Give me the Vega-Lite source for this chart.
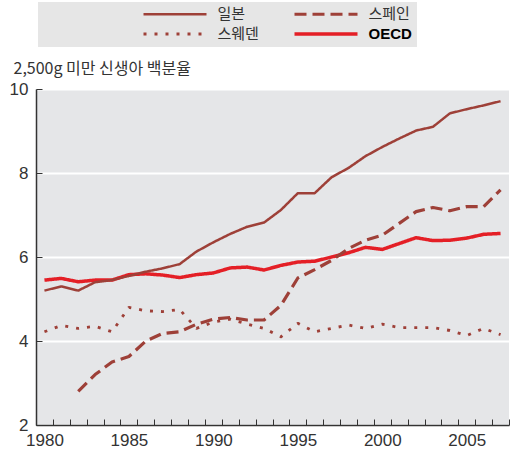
{
  "$schema": "https://vega.github.io/schema/vega-lite/v6.json",
  "width": 473,
  "height": 336,
  "autosize": {"type": "none"},
  "padding": {"left": 36, "top": 89, "right": 7, "bottom": 30},
  "background": "white",
  "config": {
    "view": {"fill": "#e5e6e8", "stroke": null},
    "font": "Liberation Sans, Noto Sans CJK KR"
  },
  "data": {
    "values": [
      {"country": "OECD", "year": 1980, "value": 5.45},
      {"country": "OECD", "year": 1981, "value": 5.49},
      {"country": "OECD", "year": 1982, "value": 5.41},
      {"country": "OECD", "year": 1983, "value": 5.45},
      {"country": "OECD", "year": 1984, "value": 5.45},
      {"country": "OECD", "year": 1985, "value": 5.58},
      {"country": "OECD", "year": 1986, "value": 5.6},
      {"country": "OECD", "year": 1987, "value": 5.57},
      {"country": "OECD", "year": 1988, "value": 5.51},
      {"country": "OECD", "year": 1989, "value": 5.58},
      {"country": "OECD", "year": 1990, "value": 5.62},
      {"country": "OECD", "year": 1991, "value": 5.74},
      {"country": "OECD", "year": 1992, "value": 5.76},
      {"country": "OECD", "year": 1993, "value": 5.69},
      {"country": "OECD", "year": 1994, "value": 5.8},
      {"country": "OECD", "year": 1995, "value": 5.88},
      {"country": "OECD", "year": 1996, "value": 5.9},
      {"country": "OECD", "year": 1997, "value": 6.0},
      {"country": "OECD", "year": 1998, "value": 6.1},
      {"country": "OECD", "year": 1999, "value": 6.23},
      {"country": "OECD", "year": 2000, "value": 6.18},
      {"country": "OECD", "year": 2001, "value": 6.32},
      {"country": "OECD", "year": 2002, "value": 6.46},
      {"country": "OECD", "year": 2003, "value": 6.39},
      {"country": "OECD", "year": 2004, "value": 6.4},
      {"country": "OECD", "year": 2005, "value": 6.45},
      {"country": "OECD", "year": 2006, "value": 6.54},
      {"country": "OECD", "year": 2007, "value": 6.56},
      {"country": "스웨덴", "year": 1980, "value": 4.22},
      {"country": "스웨덴", "year": 1981, "value": 4.37},
      {"country": "스웨덴", "year": 1982, "value": 4.3},
      {"country": "스웨덴", "year": 1983, "value": 4.35},
      {"country": "스웨덴", "year": 1984, "value": 4.22},
      {"country": "스웨덴", "year": 1985, "value": 4.8},
      {"country": "스웨덴", "year": 1986, "value": 4.72},
      {"country": "스웨덴", "year": 1987, "value": 4.7},
      {"country": "스웨덴", "year": 1988, "value": 4.75},
      {"country": "스웨덴", "year": 1989, "value": 4.3},
      {"country": "스웨덴", "year": 1990, "value": 4.45},
      {"country": "스웨덴", "year": 1991, "value": 4.52},
      {"country": "스웨덴", "year": 1992, "value": 4.4},
      {"country": "스웨덴", "year": 1993, "value": 4.3},
      {"country": "스웨덴", "year": 1994, "value": 4.1},
      {"country": "스웨덴", "year": 1995, "value": 4.42},
      {"country": "스웨덴", "year": 1996, "value": 4.22},
      {"country": "스웨덴", "year": 1997, "value": 4.3},
      {"country": "스웨덴", "year": 1998, "value": 4.38},
      {"country": "스웨덴", "year": 1999, "value": 4.3},
      {"country": "스웨덴", "year": 2000, "value": 4.4},
      {"country": "스웨덴", "year": 2001, "value": 4.32},
      {"country": "스웨덴", "year": 2002, "value": 4.32},
      {"country": "스웨덴", "year": 2003, "value": 4.32},
      {"country": "스웨덴", "year": 2004, "value": 4.25},
      {"country": "스웨덴", "year": 2005, "value": 4.13},
      {"country": "스웨덴", "year": 2006, "value": 4.3},
      {"country": "스웨덴", "year": 2007, "value": 4.15},
      {"country": "스페인", "year": 1982, "value": 2.8},
      {"country": "스페인", "year": 1983, "value": 3.2},
      {"country": "스페인", "year": 1984, "value": 3.5},
      {"country": "스페인", "year": 1985, "value": 3.63},
      {"country": "스페인", "year": 1986, "value": 4.0},
      {"country": "스페인", "year": 1987, "value": 4.18},
      {"country": "스페인", "year": 1988, "value": 4.22},
      {"country": "스페인", "year": 1989, "value": 4.4},
      {"country": "스페인", "year": 1990, "value": 4.52},
      {"country": "스페인", "year": 1991, "value": 4.56},
      {"country": "스페인", "year": 1992, "value": 4.5},
      {"country": "스페인", "year": 1993, "value": 4.5},
      {"country": "스페인", "year": 1994, "value": 4.85},
      {"country": "스페인", "year": 1995, "value": 5.5},
      {"country": "스페인", "year": 1996, "value": 5.7},
      {"country": "스페인", "year": 1997, "value": 5.92},
      {"country": "스페인", "year": 1998, "value": 6.2},
      {"country": "스페인", "year": 1999, "value": 6.4},
      {"country": "스페인", "year": 2000, "value": 6.52},
      {"country": "스페인", "year": 2001, "value": 6.8},
      {"country": "스페인", "year": 2002, "value": 7.08},
      {"country": "스페인", "year": 2003, "value": 7.18},
      {"country": "스페인", "year": 2004, "value": 7.1},
      {"country": "스페인", "year": 2005, "value": 7.2},
      {"country": "스페인", "year": 2006, "value": 7.2},
      {"country": "스페인", "year": 2007, "value": 7.6},
      {"country": "일본", "year": 1980, "value": 5.2},
      {"country": "일본", "year": 1981, "value": 5.3},
      {"country": "일본", "year": 1982, "value": 5.2},
      {"country": "일본", "year": 1983, "value": 5.4},
      {"country": "일본", "year": 1984, "value": 5.45},
      {"country": "일본", "year": 1985, "value": 5.55},
      {"country": "일본", "year": 1986, "value": 5.65},
      {"country": "일본", "year": 1987, "value": 5.73},
      {"country": "일본", "year": 1988, "value": 5.83},
      {"country": "일본", "year": 1989, "value": 6.13},
      {"country": "일본", "year": 1990, "value": 6.35},
      {"country": "일본", "year": 1991, "value": 6.55},
      {"country": "일본", "year": 1992, "value": 6.72},
      {"country": "일본", "year": 1993, "value": 6.82},
      {"country": "일본", "year": 1994, "value": 7.12},
      {"country": "일본", "year": 1995, "value": 7.52},
      {"country": "일본", "year": 1996, "value": 7.52},
      {"country": "일본", "year": 1997, "value": 7.9},
      {"country": "일본", "year": 1998, "value": 8.12},
      {"country": "일본", "year": 1999, "value": 8.4},
      {"country": "일본", "year": 2000, "value": 8.62},
      {"country": "일본", "year": 2001, "value": 8.82},
      {"country": "일본", "year": 2002, "value": 9.01},
      {"country": "일본", "year": 2003, "value": 9.1},
      {"country": "일본", "year": 2004, "value": 9.42},
      {"country": "일본", "year": 2005, "value": 9.52},
      {"country": "일본", "year": 2006, "value": 9.61},
      {"country": "일본", "year": 2007, "value": 9.71}
    ]
  },
  "mark": {"type": "line", "strokeCap": "butt", "strokeJoin": "round"},
  "encoding": {
    "x": {
      "field": "year",
      "type": "ordinal",
      "scale": {"type": "band", "paddingInner": 0, "paddingOuter": 0},
      "bandPosition": 0.5,
      "axis": {
        "title": null,
        "tickBand": "extent",
        "labelExpr": "datum.value % 5 == 0 ? datum.label : ''",
        "labelAngle": 0,
        "domainColor": "#333333",
        "domainWidth": 1.5,
        "tickColor": "#333333",
        "tickSize": -6,
        "tickWidth": 1,
        "labelFont": "Liberation Sans Narrow, Liberation Sans",
        "labelFontSize": 17,
        "labelColor": "#333333",
        "labelPadding": 13,
        "grid": false
      }
    },
    "y": {
      "field": "value",
      "type": "quantitative",
      "scale": {"domain": [2, 10], "nice": false, "zero": false},
      "axis": {
        "values": [2, 4, 6, 8, 10],
        "title": "2,500g 미만 신생아 백분율",
        "titleAngle": 0,
        "titleAlign": "left",
        "titleBaseline": "alphabetic",
        "titleX": -23,
        "titleY": -16,
        "titleFont": "Noto Sans CJK KR",
        "titleFontSize": 16,
        "titleFontWeight": "normal",
        "titleColor": "#333333",
        "grid": true,
        "gridColor": "white",
        "gridWidth": 2,
        "domainColor": "#333333",
        "domainWidth": 1.5,
        "tickColor": "#333333",
        "tickSize": -6,
        "labelFont": "Liberation Sans Narrow, Liberation Sans",
        "labelFontSize": 17,
        "labelColor": "#333333",
        "labelPadding": 14
      }
    },
    "color": {
      "field": "country",
      "type": "nominal",
      "scale": {"domain": ["일본", "스웨덴", "스페인", "OECD"], "range": ["#9e4038", "#9e4038", "#9e4038", "#e41f26"]},
      "legend": {
        "orient": "none",
        "legendX": 2,
        "legendY": -87,
        "columns": 2,
        "fillColor": "#e6e6e6",
        "padding": 4.5,
        "title": " ",
        "titleOrient": "left",
        "titlePadding": 125,
        "symbolType": "M-6.3,0H6.3",
        "symbolSize": 100,
        "labelOffset": 35,
        "labelFontSize": 15,
        "labelColor": "#333333",
        "columnPadding": 28,
        "rowPadding": 4,
        "labelLimit": 400,
        "labelExpr": "datum.value == '스페인' || datum.value == 'OECD' ? datum.label + '\u3000\u3000\u3000\u3000\u3000\u3000\u3000\u3000\u3000' : datum.label",
        "encode": {"labels": {"update": {"fontWeight": {"signal": "datum.value == 'OECD' ? 'bold' : 'normal'"}, "fill": {"signal": "datum.value == 'OECD' ? '#000000' : '#333333'"}}}}
      }
    },
    "strokeDash": {
      "field": "country",
      "type": "nominal",
      "scale": {"domain": ["일본", "스웨덴", "스페인", "OECD"], "range": [[1, 0], [3, 8], [12, 6], [1, 0]]}
    },
    "strokeWidth": {
      "field": "country",
      "type": "nominal",
      "scale": {"domain": ["일본", "스웨덴", "스페인", "OECD"], "range": [2.5, 3.5, 3, 5]}
    }
  }
}
